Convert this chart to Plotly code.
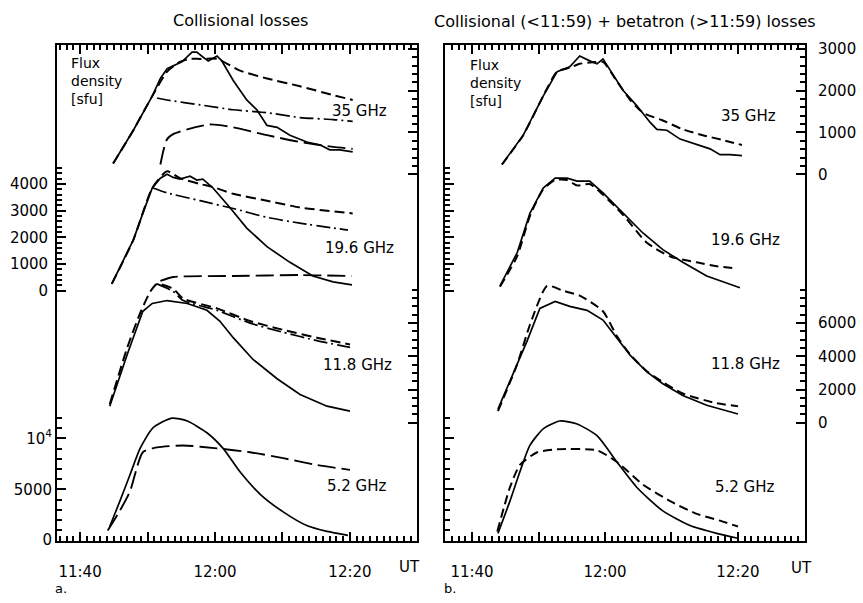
import plotly.graph_objects as go

# ---------------- data: time in minutes after 11:00 UT, flux density in sfu ----------------
# Left panel (collisional losses)
L35_obs_t = [44.9, 47.9, 50.7, 51.9, 52.9, 53.8, 55.1, 56.6, 57.3, 58.2, 59.0, 60.3, 61.0, 62.7, 64.7, 66.2, 67.7, 69.2, 71.1, 73.6, 75.6, 77.0, 78.5, 80.4]
L35_obs_v = [257, 1053, 1872, 2293, 2527, 2597, 2691, 2925, 2925, 2808, 2714, 2831, 2714, 2246, 1778, 1544, 1170, 1123, 936, 772, 702, 585, 585, 538]
L35_sd_t = [44.9, 47.9, 50.7, 52.9, 54.8, 56.3, 57.8, 60.3, 63.7, 67.7, 72.6, 77.5, 80.4]
L35_sd_v = [257, 1053, 1872, 2457, 2691, 2761, 2761, 2761, 2480, 2293, 2106, 1895, 1778]
L35_dd_t = [51.4, 52.9, 57.8, 62.7, 67.7, 72.6, 77.5, 80.4]
L35_dd_v = [1825, 1778, 1661, 1544, 1474, 1357, 1310, 1264]
L35_ld_t = [51.9, 52.4, 52.9, 53.8, 55.9, 59.3, 62.7, 67.7, 72.6, 77.5, 80.4]
L35_ld_v = [234, 600, 842, 959, 1076, 1193, 1123, 936, 772, 655, 608]

L19_obs_t = [44.7, 46.3, 47.9, 49.3, 50.7, 51.9, 52.9, 53.8, 54.8, 56.3, 57.3, 58.2, 59.7, 62.2, 64.7, 67.7, 71.1, 74.5, 77.5, 80.3]
L19_obs_v = [257, 1100, 1908, 2900, 3853, 4220, 4367, 4250, 4184, 4294, 4150, 4184, 3853, 3120, 2349, 1652, 1064, 551, 330, 220]
L19_sd_t = [44.7, 47.9, 50.7, 52.9, 54.8, 57.8, 59.7, 62.7, 67.7, 72.6, 80.4]
L19_sd_v = [257, 1908, 3853, 4477, 4220, 4000, 3890, 3633, 3376, 3120, 2899]
L19_dd_t = [50.8, 52.9, 57.8, 62.7, 67.7, 72.6, 79.7]
L19_dd_v = [3853, 3670, 3376, 3083, 2752, 2532, 2275]
L19_ld_t = [51.9, 53.8, 62.7, 72.6, 80.3]
L19_ld_v = [367, 514, 551, 587, 551]

L11_obs_t = [44.4, 47.0, 49.3, 50.7, 52.9, 55.9, 58.8, 60.7, 62.7, 65.6, 69.2, 72.6, 76.6, 80.0]
L11_obs_v = [1000, 4116, 6703, 7174, 7350, 7174, 6762, 6115, 5116, 3822, 2646, 1705, 1000, 706]
L11_sd_t = [44.4, 47.0, 48.9, 50.4, 51.4, 53.8, 55.3, 60.3, 65.2, 70.1, 75.1, 80.0]
L11_sd_v = [1117, 4528, 6586, 7880, 8350, 8056, 7468, 6880, 6115, 5586, 5116, 4704]
L11_dd_t = [51.4, 53.8, 55.3, 60.3, 65.2, 70.1, 75.1, 80.0]
L11_dd_v = [8350, 7900, 7350, 6760, 5990, 5440, 4940, 4530]

L5_obs_t = [44.4, 45.9, 47.4, 48.9, 50.8, 53.6, 55.9, 58.8, 61.2, 63.7, 66.7, 70.1, 73.6, 76.6, 79.7]
L5_obs_v = [1344, 3840, 6432, 9024, 11040, 12000, 11712, 10560, 9024, 6720, 4512, 2784, 1440, 864, 480]
L5_ld_t = [44.1, 45.9, 47.4, 49.3, 51.4, 55.3, 60.3, 65.2, 70.1, 75.1, 80.0]
L5_ld_v = [960, 2900, 4800, 8640, 9120, 9312, 9024, 8640, 8064, 7392, 6912]

# Right panel (collisional < 11:59 + betatron > 11:59)
R35_obs_t = [44.5, 47.7, 50.7, 52.8, 54.7, 56.2, 57.7, 58.8, 59.7, 60.8, 62.7, 64.8, 66.8, 67.8, 69.3, 71.3, 73.8, 75.8, 77.3, 78.8, 80.6]
R35_obs_v = [234, 936, 1872, 2457, 2574, 2831, 2714, 2644, 2761, 2480, 2012, 1638, 1240, 1076, 1053, 842, 702, 608, 468, 468, 445]
R35_mod_t = [44.5, 47.7, 50.7, 52.8, 54.7, 56.2, 58.2, 59.7, 61.8, 63.8, 65.7, 68.7, 71.7, 74.7, 77.7, 80.6]
R35_mod_v = [234, 936, 1872, 2457, 2550, 2644, 2680, 2691, 2223, 1778, 1474, 1287, 1076, 936, 819, 702]

R19_obs_t = [44.2, 46.8, 48.7, 50.7, 52.5, 54.3, 55.8, 57.7, 59.7, 62.7, 65.7, 68.7, 71.7, 75.3, 80.3]
R19_obs_v = [183, 1431, 2899, 3853, 4220, 4220, 4110, 4110, 3670, 2899, 2165, 1541, 1064, 551, 110]
R19_mod_t = [44.2, 46.8, 48.7, 50.7, 52.5, 54.3, 55.8, 57.7, 59.7, 62.7, 66.3, 69.8, 73.8, 76.8, 79.5]
R19_mod_v = [150, 1300, 2800, 3800, 4150, 4150, 3950, 4000, 3600, 2850, 1798, 1285, 1064, 918, 844]

R11_obs_t = [43.9, 46.2, 48.3, 50.2, 52.5, 54.7, 57.3, 59.7, 61.8, 63.8, 66.3, 68.7, 71.7, 75.3, 80.0]
R11_obs_v = [823, 2940, 4939, 6880, 7291, 6997, 6762, 6174, 5116, 4057, 3058, 2352, 1646, 1058, 529]
R11_mod_t = [43.9, 46.8, 48.7, 51.3, 53.7, 56.2, 59.7, 61.8, 63.8, 66.3, 68.7, 71.7, 76.8, 80.0]
R11_mod_v = [700, 3528, 5880, 8232, 7938, 7644, 6703, 5200, 4100, 3100, 2450, 1764, 1176, 1000]

R5_obs_t = [43.9, 45.7, 47.2, 48.7, 50.7, 53.2, 55.8, 58.8, 61.8, 64.8, 68.7, 72.8, 76.8, 80.0]
R5_obs_v = [672, 3840, 6720, 9312, 10944, 11712, 11424, 10272, 7680, 5184, 2880, 1440, 672, 192]
R5_mod_t = [43.8, 45.7, 47.2, 49.8, 52.8, 58.8, 61.8, 65.7, 69.8, 73.8, 77.3, 80.0]
R5_mod_v = [864, 5184, 7392, 8640, 8928, 8832, 7680, 5472, 3840, 2592, 1920, 1344]

# y tick labels
t35_vals = [0, 1000, 2000, 3000]
t19_vals = [0, 1000, 2000, 3000, 4000]
t11_vals = [0, 2000, 4000, 6000]
t5_vals = [0, 5000, 10000]
t5_text = ["0", "5000", "10<sup>4</sup>"]

# ---------------- layout helpers ----------------
W, H = 863, 603
TOP, BOT = 41, 548
FONT = "DejaVu Sans"


def ut(m):
    """minutes after 11:00 UT -> timestamp string"""
    s = int(round(m * 60))
    return "2000-01-01 %02d:%02d:%02d" % (11 + s // 3600, (s % 3600) // 60, s % 60)


def T(ts):
    return [ut(m) for m in ts]


def fx(p):
    return p / W


def fy(p):
    return 1 - p / H


# pixel position of zero and pixels per sfu for each stacked scale
scales = {"35": (173, 42.7 / 1000), "19": (292, 27.25 / 1000),
          "11": (427, 17.0 / 1000), "5": (547, 10.4 / 1000)}


def yrange(key):
    z, k = scales[key]
    return [(z - BOT) / k, (z - TOP) / k]


def minors(step, top, majors):
    return [v for v in range(step, top + 1, step) if v not in majors]


fig = go.Figure()

SD_L = "10px,5px"
DD_L = "14px,4px,2px,4px"
LD_L = "18px,6px"
SD_R = "9px,5px"


def add(t, v, xa, ya, dash="solid", width=1.7, smooth=False):
    fig.add_trace(go.Scatter(x=T(t), y=v, xaxis=xa, yaxis=ya, mode="lines",
                             line=dict(color="black", width=width, dash=dash,
                                       shape="spline" if smooth else "linear",
                                       smoothing=0.6 if smooth else None),
                             showlegend=False, hoverinfo="skip"))


add(L35_sd_t, L35_sd_v, "x", "y3", SD_L, 2, True)
add(L35_dd_t, L35_dd_v, "x", "y3", DD_L, 1.7, True)
add(L35_ld_t, L35_ld_v, "x", "y3", LD_L, 1.9, True)
add(L35_obs_t, L35_obs_v, "x", "y3")
add(L19_sd_t, L19_sd_v, "x", "y", SD_L, 2, True)
add(L19_dd_t, L19_dd_v, "x", "y", DD_L, 1.7, True)
add(L19_ld_t, L19_ld_v, "x", "y", LD_L, 1.9, True)
add(L19_obs_t, L19_obs_v, "x", "y")
add(L11_sd_t, L11_sd_v, "x", "y4", SD_L, 2, True)
add(L11_dd_t, L11_dd_v, "x", "y4", DD_L, 1.7, True)
add(L11_obs_t, L11_obs_v, "x", "y4")
add(L5_ld_t, L5_ld_v, "x", "y2", LD_L, 1.9, True)
add(L5_obs_t, L5_obs_v, "x", "y2", smooth=True)
add(R35_mod_t, R35_mod_v, "x2", "y7", SD_R, 2, True)
add(R35_obs_t, R35_obs_v, "x2", "y7")
add(R19_mod_t, R19_mod_v, "x2", "y5", SD_R, 2, True)
add(R19_obs_t, R19_obs_v, "x2", "y5")
add(R11_mod_t, R11_mod_v, "x2", "y8", SD_R, 2, True)
add(R11_obs_t, R11_obs_v, "x2", "y8")
add(R5_mod_t, R5_mod_v, "x2", "y6", SD_R, 2, True)
add(R5_obs_t, R5_obs_v, "x2", "y6", smooth=True)

tickfont = dict(family=FONT, size=15, color="black")
MAJ_LEN, MAJ_W = 9, 2.0
MIN_LEN, MIN_W = 5, 1.6
RNG_L = [36.59, 89.93]
RNG_R = [35.94, 90.08]


def xbase(dom, rng, anchor):
    return dict(type="date", domain=dom, range=T(rng), anchor=anchor,
                showline=True, linecolor="black", linewidth=1.8, mirror=True,
                ticks="inside", ticklen=MAJ_LEN, tickwidth=MAJ_W, tickcolor="black",
                tickmode="linear", tick0=ut(40), dtick=600000, tickformat="%H:%M",
                ticklabelstep=2, showgrid=False, zeroline=False, tickfont=tickfont,
                ticklabelstandoff=16)


def xhelp(base, rng, anchor, side, length, width, dtick):
    return dict(type="date", overlaying=base, anchor=anchor, side=side, range=T(rng),
                showline=False, ticks="inside", ticklen=length, tickwidth=width,
                tickcolor="black", tickmode="linear", tick0=ut(40), dtick=dtick,
                showticklabels=False, showgrid=False, zeroline=False)


def ymajor(key, majors, texts, side, anchor, labels, overlay=None, base=False, standoff=4):
    d = dict(range=yrange(key), anchor=anchor, side=side,
             ticks="inside", ticklen=MAJ_LEN, tickwidth=MAJ_W, tickcolor="black",
             tickmode="array", tickvals=majors, ticktext=texts,
             showticklabels=labels, tickfont=tickfont,
             showgrid=False, zeroline=False, ticklabelstandoff=standoff)
    if base:
        d.update(domain=[fy(BOT), fy(TOP)], showline=True, linecolor="black",
                 linewidth=1.8, mirror=True)
    else:
        d.update(overlaying=overlay, showline=False)
    return d


def yminor(key, vals, side, anchor, overlay):
    return dict(range=yrange(key), anchor=anchor, side=side, overlaying=overlay,
                ticks="inside", ticklen=MIN_LEN, tickwidth=MIN_W, tickcolor="black",
                tickmode="array", tickvals=vals, showticklabels=False,
                showline=False, showgrid=False, zeroline=False)


t19_text = [str(v) for v in t19_vals]
t35_text = [str(v) for v in t35_vals]
t11_text = [str(v) for v in t11_vals]

m19 = minors(200, 4600, t19_vals)
m5 = minors(1000, 12000, t5_vals)
m35 = minors(200, 3000, t35_vals)
m11 = minors(500, 8000, t11_vals)

fig.update_layout(
    width=W, height=H, margin=dict(l=0, r=0, t=0, b=0),
    paper_bgcolor="white", plot_bgcolor="white",
    font=dict(family=FONT, size=14, color="black"),
    xaxis=xbase([fx(57), fx(417)], RNG_L, "y"),
    xaxis2=xbase([fx(445), fx(805)], RNG_R, "y5"),
    xaxis3=xhelp("x", RNG_L, "y", "bottom", MIN_LEN, MIN_W, 60000),
    xaxis4=xhelp("x2", RNG_R, "y5", "bottom", MIN_LEN, MIN_W, 60000),
    xaxis5=xhelp("x", RNG_L, "y", "top", MAJ_LEN, MAJ_W, 600000),
    xaxis6=xhelp("x2", RNG_R, "y5", "top", MAJ_LEN, MAJ_W, 600000),
    xaxis7=xhelp("x", RNG_L, "y", "top", MIN_LEN, MIN_W, 60000),
    xaxis8=xhelp("x2", RNG_R, "y5", "top", MIN_LEN, MIN_W, 60000),
    yaxis=ymajor("19", t19_vals, t19_text, "left", "x", True, base=True),
    yaxis2=ymajor("5", t5_vals, t5_text, "left", "x", True, overlay="y"),
    yaxis3=ymajor("35", t35_vals, t35_text, "right", "x", False, overlay="y"),
    yaxis4=ymajor("11", t11_vals, t11_text, "right", "x", False, overlay="y"),
    yaxis5=ymajor("19", t19_vals, t19_text, "left", "x2", False, base=True),
    yaxis6=ymajor("5", t5_vals, t5_text, "left", "x2", False, overlay="y5"),
    yaxis7=ymajor("35", t35_vals, t35_text, "right", "x2", True, overlay="y5", standoff=12),
    yaxis8=ymajor("11", t11_vals, t11_text, "right", "x2", True, overlay="y5", standoff=12),
    yaxis9=yminor("19", m19, "left", "x", "y"),
    yaxis10=yminor("5", m5, "left", "x", "y"),
    yaxis11=yminor("35", m35, "right", "x", "y"),
    yaxis12=yminor("11", m11, "right", "x", "y"),
    yaxis13=yminor("19", m19, "left", "x2", "y5"),
    yaxis14=yminor("5", m5, "left", "x2", "y5"),
    yaxis15=yminor("35", m35, "right", "x2", "y5"),
    yaxis16=yminor("11", m11, "right", "x2", "y5"),
)

# empty single-point traces so every tick-only helper axis gets drawn
for xa, ya in [("x3", "y"), ("x5", "y"), ("x7", "y"), ("x4", "y5"), ("x6", "y5"), ("x8", "y5"),
               ("x", "y9"), ("x", "y10"), ("x", "y11"), ("x", "y12"),
               ("x2", "y13"), ("x2", "y14"), ("x2", "y15"), ("x2", "y16")]:
    fig.add_trace(go.Scatter(x=[ut(45)], y=[0], xaxis=xa, yaxis=ya, mode="lines",
                             line=dict(color="black", width=1), showlegend=False,
                             hoverinfo="skip"))


def note(text, x, y, size=15, xanchor="center", align="center"):
    fig.add_annotation(text=text, x=fx(x), y=fy(y), xref="paper", yref="paper",
                       xanchor=xanchor, yanchor="middle", align=align, showarrow=False,
                       font=dict(family=FONT, size=size, color="black"))


note("Collisional losses", 240, 16, 16)
note("Collisional (&lt;11:59) + betatron (&gt;11:59) losses", 625, 17, 16)
note("Flux<br>density<br>[sfu]", 69, 78, 14, xanchor="left", align="left")
note("Flux<br>density<br>[sfu]", 468, 80, 14, xanchor="left", align="left")
for x, y, s in [(359, 108, "35 GHz"), (359, 248, "19.6 GHz"), (357, 368, "11.8 GHz"), (357, 492, "5.2 GHz"),
                (748, 113, "35 GHz"), (745, 240, "19.6 GHz"), (745, 367, "11.8 GHz"), (745, 493, "5.2 GHz")]:
    note(s, x, y, 15)
note("UT", 409, 574, 15)
note("UT", 801, 575, 15)
note("a.", 61, 596, 13)
note("b.", 450, 596, 13)

fig.write_html("out.html", config={"displayModeBar": False},
               post_script="document.body.style.margin='0';document.body.style.overflow='hidden';")
